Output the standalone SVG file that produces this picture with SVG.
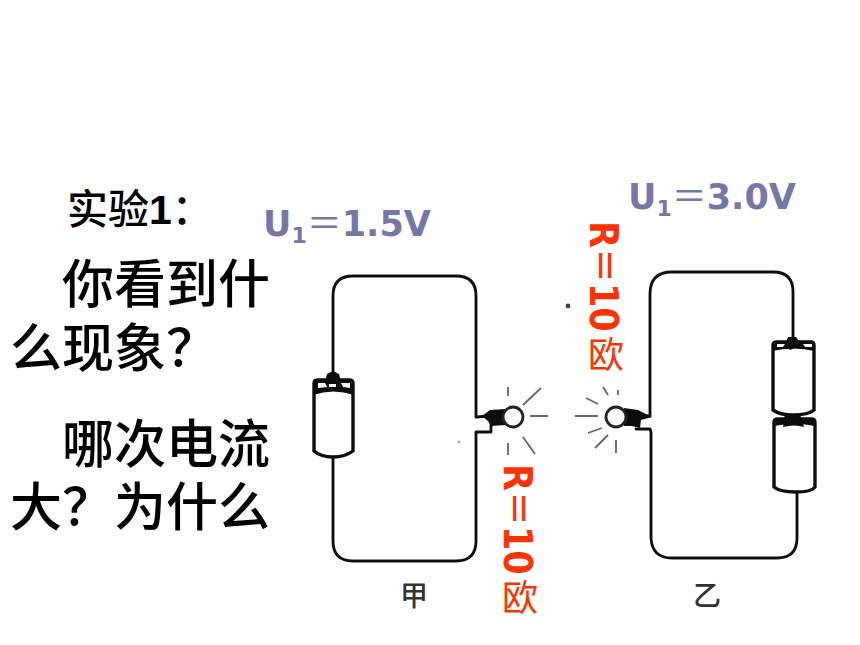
<svg xmlns="http://www.w3.org/2000/svg" width="860" height="645" viewBox="0 0 860 645">
<defs><filter id="s" x="-5%" y="-5%" width="110%" height="110%"><feGaussianBlur stdDeviation="0.55"/></filter></defs>
<style>
.w{fill:none;stroke:#111;stroke-width:2.8;stroke-linejoin:round;stroke-linecap:round}
.b{fill:#fff;stroke:#111;stroke-width:3.4}
.k{fill:#111;stroke:none}
.p{fill:#fff;stroke:none}
.r{fill:none;stroke:#666;stroke-width:1.8}
.t{font-family:"Noto Sans CJK SC","Liberation Sans",sans-serif;font-weight:500;fill:#000}
.u{font-family:"DejaVu Sans",sans-serif;font-weight:700;font-size:35px;fill:#7777a5}
.o{font-family:"DejaVu Sans",sans-serif;font-weight:700;font-size:35px;fill:#ff3300}
.e{font-family:"Noto Sans CJK SC",sans-serif;font-weight:500}
.c{font-family:"Noto Sans CJK SC",sans-serif;font-size:36px;fill:#ff3300}
.l{font-family:"Noto Sans CJK SC",sans-serif;font-weight:500;font-size:28px;fill:#333}
</style>
<rect width="860" height="645" fill="#fff"/>
<g id="connectors" filter="url(#s)">
<path class="w" d="M333 380V296Q333 276 353 276H456Q476 276 476 296V417L490 416"/>
<path class="w" d="M333 456V541Q333 561 353 561H456Q476 561 476 541V432H491V424"/>
<path class="w" d="M793 342V292Q793 272 773 272H672Q650 272 650 294V416H640"/>
<path class="w" d="M797 492V538Q797 558 777 558H672Q652 558 651 538V432L650 429H636"/>
</g>
<g id="battery-jia" filter="url(#s)">
<path class="b" d="M314 383Q314 380 318 380H349Q353 380 353 383V451Q345 457 333 457Q321 457 314 451Z"/>
<path class="k" d="M313 381H354V395Q333 388 313 395Z"/>
<path class="k" d="M327 374L333 371L339 374L341 382H325Z"/>
<path class="p" d="M318 383H325L327 387L318 388ZM341 383H350V388L343 387ZM329 384H336V387H329Z"/>
</g>
<g id="lamp-jia" filter="url(#s)">
<path class="k" d="M482 416L490 410L505 409V425L491 426L488 421Z"/>
<circle cx="513" cy="417" r="10" fill="#fff" stroke="#222" stroke-width="2.8"/>
<path class="r" d="M508 387V396M523 405L541 388M530 416H548M508 443V455M523 437L535 454"/>
</g>
<g id="battery-yi-1" filter="url(#s)">
<path class="b" d="M773 345Q773 342 777 342H811Q814 342 814 345V410Q808 415 793 415Q780 415 773 410Z"/>
<path class="k" d="M772 342H815V351Q793 346 772 351Z"/>
<path class="k" d="M788 337H796L802 345L790 350L785 345Z"/>
<path class="p" d="M777 344H785L783 347H777ZM803 344H812V347H805Z"/>
</g>
<g id="battery-yi-2" filter="url(#s)">
<path class="b" d="M774 422Q774 419 778 419H811Q815 419 815 422V487Q812 492 795 492Q780 492 774 487Z"/>
<path class="k" d="M785 414H800L804 427Q795 424 783 427Z"/>
<path class="k" d="M774 419H815V426Q795 422 774 426Z"/>
</g>
<g id="lamp-yi" filter="url(#s)">
<path class="k" d="M624 408L638 410L652 417L641 420L640 428L632 426L624 426Z"/>
<circle cx="616" cy="417" r="10" fill="#fff" stroke="#222" stroke-width="2.8"/>
<path class="r" d="M575 416H598M586 398L598 404M603 387L608 395M618 390V395M588 433L602 428M595 448L608 435M616 440V453"/>
</g>
<g id="specks">
<circle cx="568" cy="306" r="2.4" fill="#444"/>
<circle cx="459" cy="442" r="1.5" fill="#aaa"/>
</g>
<g id="labels">
<text class="t" x="67" y="224" font-size="41">实验<tspan font-family="Liberation Sans" font-weight="700">1</tspan>：</text>
<text class="t" x="62" y="303" font-size="52">你看到什</text>
<text class="t" x="10" y="367" font-size="52">么现象？</text>
<text class="t" x="62" y="463" font-size="52">哪次电流</text>
<text class="t" x="10" y="526" font-size="52">大？为什么</text>
<text class="u" x="263" y="236">U<tspan font-size="22" dy="7">1</tspan><tspan dy="-7" font-family="Noto Sans CJK SC" font-weight="400">＝</tspan>1.5V</text>
<text class="u" x="628" y="209">U<tspan font-size="22" dy="7">1</tspan><tspan dy="-7" font-family="Noto Sans CJK SC" font-weight="400">＝</tspan>3.0V</text>
<text class="o" transform="translate(504,464) rotate(90) scale(1,1.13)">R<tspan class="e">＝</tspan>10</text>
<text class="c" x="502" y="611">欧</text>
<text class="o" transform="translate(590,221) rotate(90) scale(1,1.13)">R<tspan class="e">＝</tspan>10</text>
<text class="c" x="588" y="368">欧</text>
<text class="l" x="400" y="606">甲</text>
<text class="l" x="693" y="606">乙</text>
</g>
</svg>
